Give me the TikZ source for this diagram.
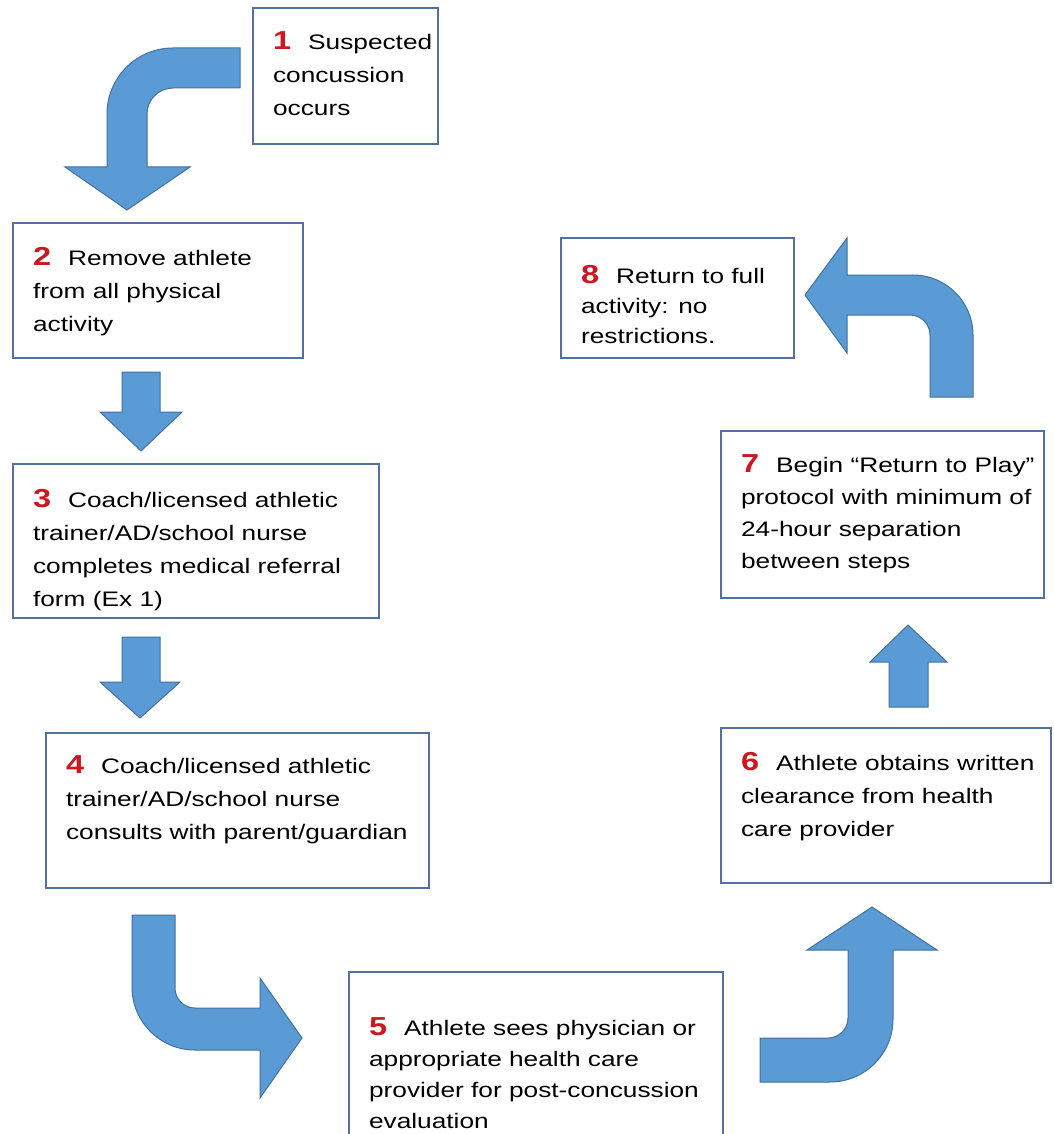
\documentclass[tikz,border=0pt]{standalone}
\usepackage{fontspec}
\setmainfont{Liberation Sans}[FakeStretch=1.25]
\usetikzlibrary{positioning}
\definecolor{boxblue}{RGB}{84,112,158}
\definecolor{arrowfill}{RGB}{91,155,213}
\definecolor{arrowline}{RGB}{65,113,156}
\definecolor{numred}{RGB}{205,22,30}
\tikzset{
  stepbox/.style={draw=boxblue,line width=2.2pt,fill=white,inner sep=0pt,anchor=north west},
  bluearrow/.style={fill=arrowfill,draw=arrowline,line width=1pt,line join=miter}
}
% number of a step, red and bold
\newcommand{\stepno}[1]{{\fontsize{26}{33}\selectfont\bfseries\color{numred}#1}\hspace{17pt}}
% width, height, top pad, line skip, text (all in pt)
\newcommand{\stepcontent}[5]{%
  \parbox[c][#2pt][t]{#1pt}{\fontsize{21}{#4}\selectfont\raggedright\leftskip=20pt
  \rightskip=0pt plus 1fil minus 80pt\vspace*{#3pt}#5}}

\begin{document}
\begin{tikzpicture}[x=1pt,y=-1pt]
  \useasboundingbox (0,0) rectangle (1053,1134);
  \clip (0,0) rectangle (1053,1134);

  % steps
  \node[stepbox] (s1) at (252,7)
    {\stepcontent{185}{136}{24}{33}{\stepno{1}Suspected\\concussion\\occurs}};
  \node[stepbox] (s2) at (12,222)
    {\stepcontent{290}{135}{24}{33}{\stepno{2}Remove athlete\\from all physical\\activity}};
  \node[stepbox] (s3) at (12,463)
    {\stepcontent{366}{154}{25}{33}{\stepno{3}Coach/licensed athletic\\trainer/AD/school nurse\\completes medical referral\\form (Ex 1)}};
  \node[stepbox] (s4) at (45,732)
    {\stepcontent{383}{155}{23}{33}{\stepno{4}Coach/licensed athletic\\trainer/AD/school nurse\\consults with parent/guardian}};
  \node[stepbox] (s5) at (348,971)
    {\stepcontent{374}{200}{45}{31}{\stepno{5}Athlete sees physician or\\appropriate health care\\provider for post-concussion\\evaluation}};
  \node[stepbox] (s6) at (720,727)
    {\stepcontent{330}{155}{24}{33}{\stepno{6}Athlete obtains written\\clearance from health\\care provider}};
  \node[stepbox] (s7) at (720,430)
    {\stepcontent{323}{167}{24}{32}{\stepno{7}Begin “Return to Play”\\protocol with minimum of\\24-hour separation\\between steps}};
  \node[stepbox] (s8) at (560,237)
    {\stepcontent{233}{120}{27}{30}{\stepno{8}Return to full\\activity: no\\restrictions.}};

  % block arrows
  \filldraw[bluearrow] (240,48)--(173,48) .. controls (136.5,48) and (107,77.5) .. (107,114)
    --(107,167)--(65,167)--(127,210)--(190,167)--(147,167)--(147,114)
    .. controls (147,99.6) and (158.6,88) .. (173,88)--(240,88)--cycle;
  \filldraw[bluearrow] (122,372)--(122,412)--(100,412)--(141,451)--(182,412)--(160,412)--(160,372)--cycle;
  \filldraw[bluearrow] (122,637)--(122,682)--(100,682)--(140,718)--(180,682)--(160,682)--(160,637)--cycle;
  \filldraw[bluearrow] (132,915)--(132,987) .. controls (132,1021.8) and (160.2,1050) .. (195,1050)
    --(260,1050)--(260,1098)--(302,1038)--(260,978)--(260,1008)--(195,1008)
    .. controls (184,1008) and (175,999) .. (175,988)--(175,915)--cycle;
  \filldraw[bluearrow] (760,1038)--(828,1038) .. controls (839,1038) and (848,1029) .. (848,1018)
    --(848,950)--(807,950)--(872,907)--(937,950)--(893,950)--(893,1019)
    .. controls (893,1053.8) and (864.8,1082) .. (830,1082)--(760,1082)--cycle;
  \filldraw[bluearrow] (889,707)--(889,662)--(870,662)--(908,625)--(947,662)--(928,662)--(928,707)--cycle;
  \filldraw[bluearrow] (930,397)--(930,335) .. controls (930,324) and (921,315) .. (910,315)
    --(847,315)--(847,353)--(805,295)--(847,238)--(847,275)--(913,275)
    .. controls (946,275) and (973,302) .. (973,335)--(973,397)--cycle;
\end{tikzpicture}
\end{document}
